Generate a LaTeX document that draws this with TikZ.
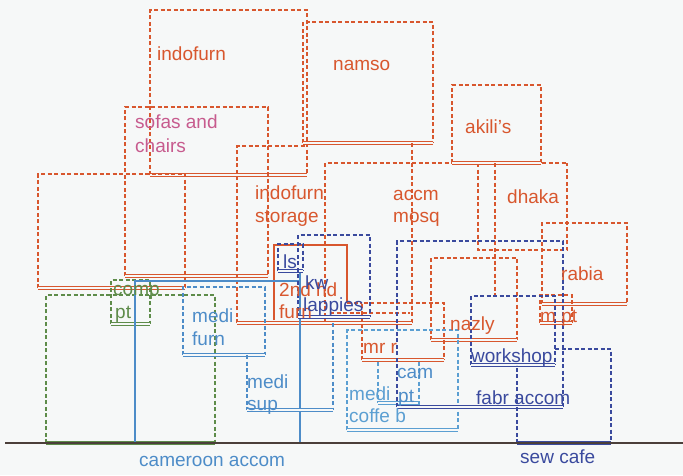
\documentclass[tikz,border=0pt]{standalone}
\usepackage{fontspec}
\setmainfont{Liberation Sans}
\definecolor{bg}{HTML}{F6F8F8}
\definecolor{OR}{HTML}{D8572E}
\definecolor{PK}{HTML}{C75B8E}
\definecolor{DB}{HTML}{3A4A9E}
\definecolor{MB}{HTML}{4D8CC8}
\definecolor{LB}{HTML}{5B9FD2}
\definecolor{GR}{HTML}{5E8C4A}
\definecolor{BL}{HTML}{4B3F3A}
\newcommand\bld[5]{%
  \draw[dsh,#1] (#2,#5)--(#2,#3)--(#4,#3)--(#4,#5);
  \draw[btm,#1] (#2,#5)--(#4,#5);}
\tikzset{
  dsh/.style={dash pattern=on 4pt off 2.5pt, line width=1.6pt},
  btm/.style={double=bg, double distance=1.4pt, line width=1.2pt},
  lbl/.style={anchor=base west, inner sep=0pt, font=\fontsize{19}{22}\selectfont},
}
\begin{document}
\begin{tikzpicture}[x=1pt,y=-1pt]
\fill[bg] (0,0) rectangle (683,475);
\useasboundingbox (0,0) rectangle (683,475);
% ---------- orange buildings ----------
\bld{OR}{150}{10}{307}{175}
\bld{OR}{303}{22}{433}{143}
\bld{OR}{125}{107}{268}{276}
\bld{OR}{38}{174}{185}{288}
\draw[dsh,OR] (237,323)--(237,146)--(307,146);
\draw[dsh,OR] (325,323)--(325,163)--(567,163);
\draw[dsh,OR] (478,163)--(478,250)--(567,250)--(567,163);
\bld{OR}{452}{85}{541}{163}
\draw[dsh,OR] (412,143)--(412,323);
\draw[dsh,OR] (495,163)--(495,296);
\draw[btm,OR] (237,323)--(412,323);
\bld{OR}{542}{223}{627}{304}
\bld{OR}{431}{258}{517}{340}
\bld{OR}{540}{295}{572}{323}
\draw[dsh,OR] (347,303)--(362,303);
\bld{OR}{362}{303}{444}{360}
\draw[dsh,OR] (330,313)--(410,313);
\draw[OR,line width=1.5pt] (274,320)--(274,245)--(347,245)--(347,303);
% ---------- green ----------
\bld{GR}{46}{295}{215}{443}
\bld{GR}{111}{280}{150}{324}
% ---------- mid blue ----------
\draw[MB,line width=1.5pt] (135,443)--(135,281)--(300,281);
\draw[MB,line width=1.5pt] (300,271)--(300,443);
\bld{MB}{183}{287}{265}{355}
\draw[dsh,MB] (247,355)--(247,410);
\draw[dsh,MB] (333,323)--(333,410);
\draw[btm,MB] (247,410)--(333,410);
% ---------- light blue ----------
\bld{LB}{347}{330}{458}{430}
\draw[dsh,LB] (378,362)--(378,403);
\draw[dsh,LB] (419,362)--(419,405);
\draw[btm,LB] (378,403)--(418,403);
% ---------- dark blue ----------
\bld{DB}{278}{244}{303}{271}
\bld{DB}{298}{235}{370}{317}
\bld{DB}{397}{241}{563}{407}
\bld{DB}{471}{296}{555}{365}
\draw[dsh,DB] (517,443)--(517,365);
\draw[dsh,DB] (555,349)--(611,349)--(611,443);
\draw[btm,DB] (517,443)--(611,443);
% ---------- baseline ----------
\coordinate (g0) at (5,443);
\coordinate (g1) at (683,443);
\draw[BL,line width=1.8pt] (g0)--(g1);
% ---------- labels ----------
\node[lbl,OR] (t1) at (157,60) {indofurn};
\node[lbl,OR] (t2) at (333,70) {namso};
\node[lbl,PK] (t3) at (135,128) {sofas and};
\node[lbl,PK] (t3b) at (135,152) {chairs};
\node[lbl,OR] (t4) at (255,199) {indofurn};
\node[lbl,OR] (t4b) at (255,222) {storage};
\node[lbl,OR] (t5) at (393,200) {accm};
\node[lbl,OR] (t5b) at (393,222) {mosq};
\node[lbl,OR] (t6) at (465,133) {akili's};
\node[lbl,OR] (t7) at (507,203) {dhaka};
\node[lbl,OR] (t8) at (561,280) {rabia};
\node[lbl,OR] (t9) at (540,322) {m pt};
\node[lbl,OR] (t10) at (450,330) {nazly};
\node[lbl,OR] (t11) at (363,353) {mr r};
\node[lbl,OR] (t12) at (279,296) {2nd hd};
\node[lbl,OR] (t12b) at (279,318) {furn};
\node[lbl,DB] (t13) at (283,268) {ls};
\node[lbl,DB] (t14) at (305,289) {kw};
\node[lbl,DB] (t15) at (303,311) {lappies};
\node[lbl,DB] (t16) at (471,362) {workshop};
\node[lbl,DB] (t17) at (476,404) {fabr accom};
\node[lbl,MB] (t18) at (397,378) {cam};
\node[lbl,MB] (t18b) at (398,402) {pt};
\node[lbl,LB] (t19) at (349,400) {medi};
\node[lbl,LB] (t19b) at (349,422) {coffe b};
\node[lbl,MB] (t20) at (192,322) {medi};
\node[lbl,MB] (t20b) at (192,345) {furn};
\node[lbl,MB] (t21) at (247,388) {medi};
\node[lbl,MB] (t21b) at (247,410) {sup};
\node[lbl,GR] (t22) at (113,295) {comp};
\node[lbl,GR] (t22b) at (115,318) {pt};
\node[lbl,MB] (t23) at (139,466) {cameroon accom};
\node[lbl,DB] (t24) at (520,463) {sew cafe};
\end{tikzpicture}
\end{document}
